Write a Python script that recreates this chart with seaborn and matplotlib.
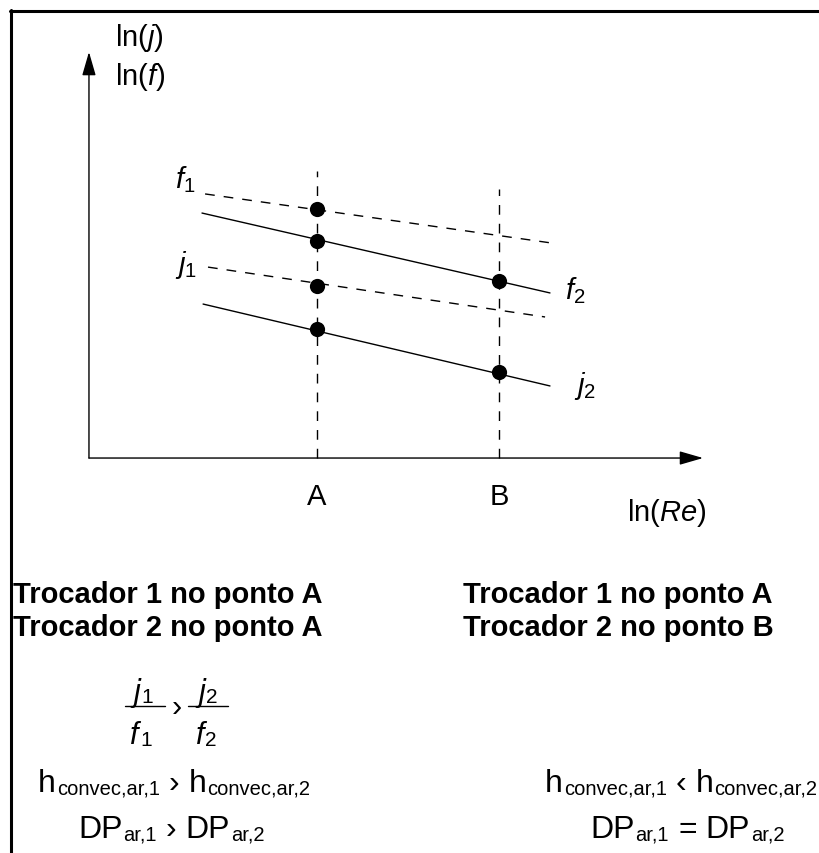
import matplotlib
matplotlib.use("Agg")
import matplotlib.pyplot as plt
import pandas as pd
import seaborn as sns
from matplotlib.lines import Line2D

sns.set_theme(style="white")
plt.rcParams["font.family"] = ["Liberation Sans", "DejaVu Sans"]
plt.rcParams["mathtext.fontset"] = "custom"
plt.rcParams["mathtext.rm"] = "Liberation Sans"
plt.rcParams["mathtext.it"] = "Liberation Sans:italic"
plt.rcParams["mathtext.bf"] = "Liberation Sans:bold"

# Operating points on the ln(Re) axis
points = ["A", "B"]
ln_re_points = [1.0, 2.0]
guide_top = [1.577, 1.478]

# Correlation lines (ln(Re) extent and ln(j) / ln(f) at both ends)
curves = ["f1", "f2", "j1", "j2"]
curve_dashed = [True, False, True, False]
ln_re_start = [0.385, 0.368, 0.401, 0.374]
ln_re_end = [2.291, 2.280, 2.253, 2.280]
ln_val_start = [1.451, 1.346, 1.049, 0.846]
ln_val_end = [1.181, 0.907, 0.775, 0.396]

# Exchanger states marked on the curves
op_curve = ["f1", "f2", "j1", "j2", "f2", "j2"]
op_ln_re = [1.0, 1.0, 1.0, 1.0, 2.0, 2.0]
op_ln_val = [1.368, 1.192, 0.945, 0.709, 0.973, 0.473]

# Axis extents
ln_re_axis = [-0.253, 3.121]
ln_val_axis = [0.0, 2.231]

W, H = 819, 854
fig = plt.figure(figsize=(W / 100, H / 100), dpi=100)
fig.patch.set_facecolor("white")
ax = fig.add_axes([0, 0, 1, 1])
ax.set_xlim(-0.7418, 3.758)
ax.set_ylim(-2.170, 2.522)
ax.axis("off")

DASH = (7, 6.5)

# correlation lines
rows = []
for c, a0, a1, b0, b1 in zip(curves, ln_re_start, ln_re_end, ln_val_start, ln_val_end):
    rows.append({"curve": c, "ln_re": a0, "ln_val": b0})
    rows.append({"curve": c, "ln_re": a1, "ln_val": b1})
lines_df = pd.DataFrame(rows)
sns.lineplot(
    data=lines_df, x="ln_re", y="ln_val", hue="curve", style="curve",
    palette={c: "black" for c in curves},
    dashes={c: (DASH if d else "") for c, d in zip(curves, curve_dashed)},
    linewidth=1.0, legend=False, sort=False, ax=ax, estimator=None,
)

# vertical guides at A and B
for x, top in zip(ln_re_points, guide_top):
    ax.plot([x, x], [0, top], color="black", lw=1.0, dashes=DASH)

# marked states
op_df = pd.DataFrame({"curve": op_curve, "ln_re": op_ln_re, "ln_val": op_ln_val})
sns.scatterplot(data=op_df, x="ln_re", y="ln_val", color="black", s=120,
                edgecolor="black", linewidth=0, ax=ax, zorder=5, legend=False)

# axes with arrow heads
arrow = dict(arrowstyle="-|>,head_length=1.45,head_width=0.42",
             mutation_scale=10, color="black", lw=1.0, shrinkA=0, shrinkB=0)
ax.annotate("", xy=(ln_re_axis[1], 0), xytext=(ln_re_axis[0], 0), arrowprops=arrow)
ax.annotate("", xy=(ln_re_axis[0], ln_val_axis[1]), xytext=(ln_re_axis[0], 0),
            arrowprops=arrow)


def put(x, y, s, **kw):
    kw.setdefault("va", "baseline")
    kw.setdefault("color", "black")
    return fig.text(x / W, 1 - y / H, s, **kw)


renderer = fig.canvas.get_renderer()


def rich(x, y, pieces, ha="left"):
    """Lay out (text, size, drop_px, style, gap_px) pieces along one baseline."""
    objs, widths = [], []
    for s, size, dy, style, gap in pieces:
        t = put(0, 0, s, fontsize=size, style=style)
        objs.append(t)
        widths.append(t.get_window_extent(renderer).width + gap)
    x0 = x - sum(widths) / 2 if ha == "center" else x
    for t, w, (s, size, dy, style, gap) in zip(objs, widths, pieces):
        t.set_position((x0 / W, 1 - (y + dy) / H))
        x0 += w


# axis labels
put(115, 46, r"ln($j$)", fontsize=21)
put(115, 85, r"ln($f$)", fontsize=21)
put(627, 521, r"ln($Re$)", fontsize=21)
for name, x in zip(points, ln_re_points):
    xp = 317 + (x - 1.0) * 182
    put(xp, 505, name, fontsize=21, ha="center")

# curve labels
put(175, 188, r"$f_1$", fontsize=21)
put(175, 273, r"$j_1$", fontsize=21)
put(565, 299, r"$f_2$", fontsize=21)
put(574, 394, r"$j_2$", fontsize=21)

# comparison text
bold = dict(fontsize=21, fontweight="bold")
put(13, 603, "Trocador 1 no ponto A", **bold)
put(13, 636, "Trocador 2 no ponto A", **bold)
put(463, 603, "Trocador 1 no ponto A", **bold)
put(463, 636, "Trocador 2 no ponto B", **bold)

# j/f ratio
N, D = 22, 15
rich(143, 701, [("j", N, 0, "italic", 1), ("1", D, 2, "normal", 0)], ha="center")
rich(141, 744, [("f", N, 0, "italic", 1), ("1", D, 2, "normal", 0)], ha="center")
rich(208, 701, [("j", N, 0, "italic", 1), ("2", D, 2, "normal", 0)], ha="center")
rich(206, 744, [("f", N, 0, "italic", 1), ("2", D, 2, "normal", 0)], ha="center")
put(177, 708, "\u203a", fontsize=22, ha="center", va="center")
for x0, x1 in [(125, 165), (188, 228)]:
    fig.add_artist(Line2D([x0 / W, x1 / W], [1 - 707 / H, 1 - 707 / H],
                          color="black", lw=1.0))

# heat transfer and pressure drop relations
M, S = 23, 14.5


def relation(x, y, base, sub1, sign, sub2):
    rich(x, y, [
        (base, M, 0, "normal", 1),
        (sub1, S, 3, "normal", 9),
        (sign, M, 0, "normal", 9),
        (base, M, 0, "normal", 1),
        (sub2, S, 3, "normal", 0),
    ])


relation(38, 792, "h", "convec,ar,1", "\u203a", "convec,ar,2")
relation(545, 792, "h", "convec,ar,1", "\u2039", "convec,ar,2")
relation(78, 838, "DP", "ar,1", "\u203a", "ar,2")
relation(590, 838, "DP", "ar,1", "=", "ar,2")

# frame
fig.add_artist(Line2D([10 / W, 1], [1 - 12 / H, 1 - 12 / H], color="black", lw=2.2))
fig.add_artist(Line2D([11 / W, 11 / W], [1 - 11 / H, 0], color="black", lw=2.2))

fig.savefig("out.png", dpi=100, facecolor="white")
